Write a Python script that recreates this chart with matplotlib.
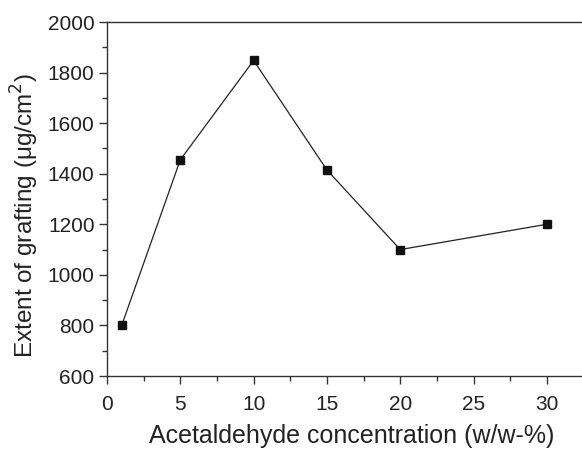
import matplotlib
matplotlib.use("Agg")
import matplotlib.pyplot as plt
from matplotlib.ticker import MultipleLocator

x = [1, 5, 10, 15, 20, 30]
y = [800, 1455, 1848, 1415, 1100, 1200]

plt.rcParams['font.family'] = ['Liberation Sans', 'DejaVu Sans']
fig = plt.figure(figsize=(5.82, 4.5), dpi=100)
ax = fig.add_axes([107/582, 1-376/450, 1-107/582, (376-22)/450])
ax.plot(x, y, color='#222222', lw=0.9, marker='s', ms=5.5, mfc='#111111', mec='#111111')
ax.set_xlim(0, 32.4)
ax.set_ylim(600, 2000)
ax.xaxis.set_major_locator(MultipleLocator(5))
ax.xaxis.set_minor_locator(MultipleLocator(2.5))
ax.yaxis.set_major_locator(MultipleLocator(200))
ax.yaxis.set_minor_locator(MultipleLocator(100))
ax.tick_params(which='both', direction='out', labelsize=15, width=1, color='#333333', labelcolor='#222222')
ax.tick_params(which='major', length=6)
ax.tick_params(which='minor', length=3.5)
ax.tick_params(axis='x', which='major', pad=8)
ax.tick_params(axis='y', which='major', pad=3)
ax.spines['right'].set_visible(False)
for s in ['left', 'bottom', 'top']:
    ax.spines[s].set_color('#333333')
    ax.spines[s].set_linewidth(1)
ax.set_xlabel('Acetaldehyde concentration (w/w-%)', fontsize=18, color='#222222')
ax.set_ylabel('Extent of grafting (μg/cm$^2$)', fontsize=17.5, color='#222222')
ax.xaxis.set_label_coords(0.516, -0.136)
ax.yaxis.set_label_coords(-0.138, 0.452)
fig.savefig('out.png', dpi=100)
